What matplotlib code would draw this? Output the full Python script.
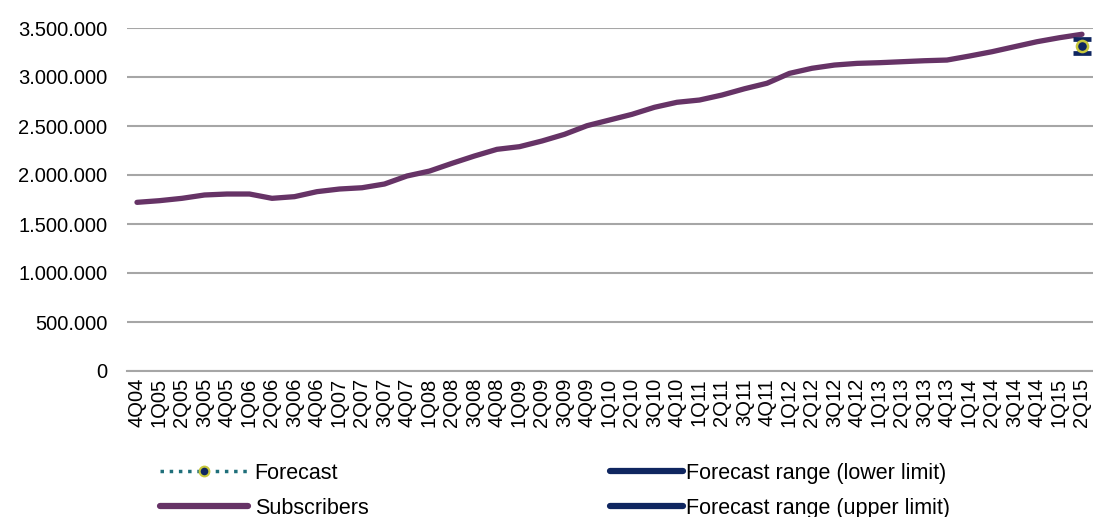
import matplotlib
matplotlib.use('Agg')
from matplotlib import pyplot as plt
from matplotlib.lines import Line2D
from matplotlib.ticker import FuncFormatter

plt.rcParams['font.family'] = ['Liberation Sans', 'DejaVu Sans']

quarters = ['4Q04']
for yr in range(5, 15):
    for q in range(1, 5):
        quarters.append('%dQ%02d' % (q, yr))
quarters += ['1Q15', '2Q15']

subscribers = [1721000, 1738000, 1762000, 1796000, 1806000, 1806000, 1762000, 1779000,
               1830000, 1857000, 1870000, 1908000, 1990000, 2040000, 2119000, 2194000,
               2262000, 2289000, 2347000, 2415000, 2503000, 2561000, 2619000, 2691000,
               2742000, 2765000, 2816000, 2880000, 2936000, 3037000, 3089000, 3122000,
               3139000, 3146000, 3156000, 3166000, 3173000, 3214000, 3258000, 3309000,
               3360000, 3401000, 3436000]
forecast = 3317000
forecast_low = 3245000
forecast_high = 3383000

purple = '#663366'
navy = '#0f2660'
olive = '#c8c83c'
teal = '#1f6f7a'

fig = plt.figure(figsize=(10.93, 5.17), dpi=100)
ax = fig.add_axes([127 / 1093, 1 - 371 / 517, 966 / 1093, 343 / 517])

x = list(range(len(quarters)))
ax.plot(x, subscribers, color=purple, lw=3.8, solid_capstyle='round', zorder=3)
last = x[-1]
ax.plot([last], [forecast_low], marker='_', ms=13, mew=3.4, color=navy, zorder=4)
ax.plot([last], [forecast_high], marker='_', ms=13, mew=3.4, color=navy, zorder=4)
ax.plot([last], [forecast], marker='o', ms=8, mfc=navy, mec=olive, mew=1.8, zorder=5)

ax.set_ylim(0, 3500000)
ax.set_xlim(-0.444, last + 0.49)
ax.set_yticks(range(0, 3500001, 500000))
ax.yaxis.set_major_formatter(FuncFormatter(lambda v, p: '{:,.0f}'.format(v).replace(',', '.')))
ax.grid(axis='y', color='#a6a6a6', lw=1.5)
ax.set_axisbelow(True)
for s in ['top', 'right', 'left']:
    ax.spines[s].set_visible(False)
ax.spines['bottom'].set_color('#a6a6a6')
ax.spines['bottom'].set_linewidth(1.5)
ax.set_xticks(x)
ax.set_xticklabels(quarters, rotation=90, fontsize=14.5)
ax.tick_params(axis='y', labelsize=14.5, length=0, pad=14)
ax.tick_params(axis='x', length=0, pad=5)

# legend, two columns placed separately
h_forecast = Line2D([], [], color=teal, ls=':', lw=2.5, marker='o', ms=7, mfc=navy, mec=olive, mew=1.5)
h_subs = Line2D([], [], color=purple, lw=4.5, solid_capstyle='round')
h_low = Line2D([], [], color=navy, lw=4.5, solid_capstyle='round')
h_high = Line2D([], [], color=navy, lw=4.5, solid_capstyle='round')

fig.legend([h_forecast, h_subs], ['Forecast', 'Subscribers'],
           loc='upper left', bbox_to_anchor=(160 / 1093, 1 - 463 / 517),
           frameon=False, fontsize=15.5, handlelength=4.1, handletextpad=0.3,
           labelspacing=0.64, borderpad=0, borderaxespad=0)
fig.legend([h_low, h_high], ['Forecast range (lower limit)', 'Forecast range (upper limit)'],
           loc='upper left', bbox_to_anchor=(610 / 1093, 1 - 463 / 517),
           frameon=False, fontsize=15.5, handlelength=3.4, handletextpad=0.15,
           labelspacing=0.64, borderpad=0, borderaxespad=0)

fig.savefig('out.png', dpi=100)
